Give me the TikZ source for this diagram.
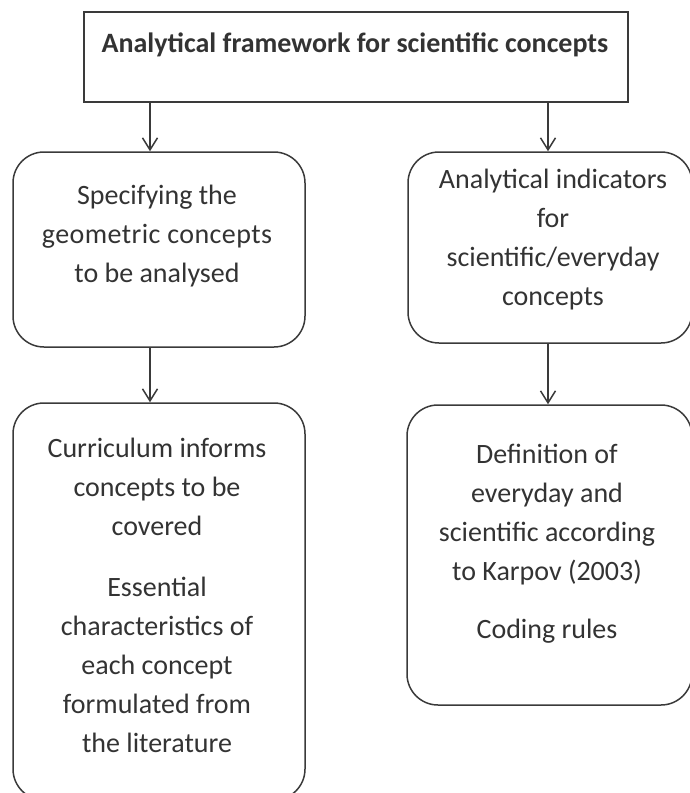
\documentclass[tikz,border=0pt]{standalone}
\usepackage{fontspec}
\setmainfont{Carlito}
\usetikzlibrary{arrows.meta}
\definecolor{ink}{HTML}{333333}
\definecolor{edge}{HTML}{3A3A3A}
\begin{document}
\begin{tikzpicture}[x=1pt,y=-1pt,
  rbox/.style={draw=edge, line width=1.5pt, rounded corners=31pt, inner sep=0pt},
  sbox/.style={draw=edge, line width=1.5pt, inner sep=0pt},
  txt/.style={text=ink, align=center, inner sep=0pt, font=\fontsize{28}{39}\selectfont},
  ttl/.style={text=ink, inner sep=0pt, font=\fontsize{28}{32}\selectfont\bfseries},
  arr/.style={draw=edge, line width=1.5pt, -{Straight Barb[length=12pt,width=15pt,line width=1.5pt]}}]
\useasboundingbox (0,0) rectangle (689,793);
% boxes
\node[sbox, minimum width=544pt, minimum height=90pt] (top) at (356,57) {};
\node[rbox, minimum width=292pt, minimum height=195pt] (b1) at (159,249.5) {};
\node[rbox, minimum width=284pt, minimum height=191pt] (b2) at (550,247.5) {};
\node[rbox, minimum width=292pt, minimum height=397pt] (b3) at (159,601.5) {};
\node[rbox, minimum width=285pt, minimum height=300pt] (b4) at (549.5,555) {};
% texts
\node[ttl] (ttext) at (355,45) {Analytical framework for scientific concepts};
\node[txt] (t1) at (157,236) {Specifying the\\{\addfontfeature{LetterSpace=1.5}geometric concepts}\\to be analysed};
\node[txt] (t2) at (553,240) {Analytical indicators\\for\\scientific/everyday\\concepts};
\node[txt] (t3) at (157,595) {Curriculum informs\\concepts to be\\covered\\[22pt]Essential\\characteristics of\\each concept\\formulated from\\the literature};
\node[txt] (t4) at (547,544) {Definition of\\everyday and\\scientific according\\to Karpov (2003)\\[19pt]Coding rules};
% arrow columns
\coordinate (L) at (150,0);
\coordinate (R) at (548,0);
\draw[arr] (top.south -| L) -- (b1.north -| L);
\draw[arr] (top.south -| R) -- (b2.north -| R);
\draw[arr] (b1.south -| L) -- (b3.north -| L);
\draw[arr] (b2.south -| R) -- (b4.north -| R);
\end{tikzpicture}
\end{document}
